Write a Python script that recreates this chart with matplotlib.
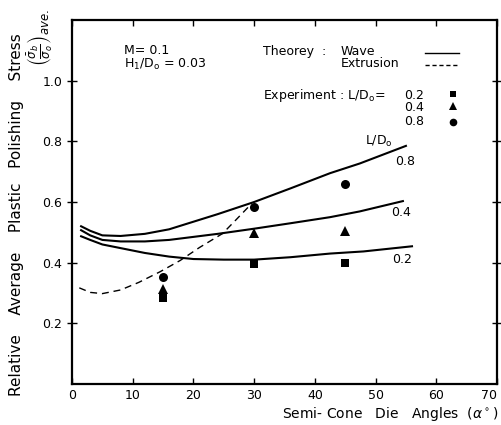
import matplotlib
matplotlib.use("Agg")
import matplotlib.pyplot as plt

# Theory: wave model curves for L/D0 = 0.8, 0.4, 0.2
wave_08_x = [1.5, 3, 5, 8, 12, 16, 20, 24, 30, 36, 42.5, 47.4, 55]
wave_08_y = [0.52, 0.505, 0.49, 0.488, 0.495, 0.51, 0.535, 0.56, 0.60, 0.645, 0.695, 0.727, 0.785]
wave_04_x = [1.5, 3, 5, 8, 12, 16, 20, 24, 30, 36, 42.5, 47.4, 54.5]
wave_04_y = [0.507, 0.49, 0.475, 0.47, 0.47, 0.475, 0.485, 0.495, 0.512, 0.53, 0.55, 0.569, 0.603]
wave_02_x = [1.5, 3, 5, 8, 12, 16, 20, 25, 30, 36, 42.5, 48, 56]
wave_02_y = [0.487, 0.475, 0.46, 0.448, 0.432, 0.42, 0.412, 0.41, 0.41, 0.418, 0.43, 0.437, 0.454]

# Theory: extrusion model
extr_x = [1.2, 3, 5, 8, 11, 14.5, 17.8, 21, 24.8, 27, 29.6]
extr_y = [0.317, 0.302, 0.298, 0.31, 0.335, 0.37, 0.407, 0.45, 0.496, 0.541, 0.595]

# Experiment
exp_angles = [15, 30, 45]
exp_02 = [0.284, 0.397, 0.40]
exp_04 = [0.314, 0.498, 0.503]
exp_08 = [0.352, 0.584, 0.66]

x_ticks = [0, 10, 20, 30, 40, 50, 60, 70]
y_ticks = [0.2, 0.4, 0.6, 0.8, 1.0]
y_ticklabels = ["0.2", "0.4", "0.6", "0.8", "1.0"]

plt.rcParams['font.family'] = ['DejaVu Sans']
fig = plt.figure(figsize=(5.01, 4.25), dpi=100)
W, H = 501, 425
ax = fig.add_axes([72 / W, 1 - 384 / H, (497 - 72) / W, (384 - 20) / H])

lw = 1.5
ax.plot(wave_08_x, wave_08_y, color='black', lw=lw)
ax.plot(wave_04_x, wave_04_y, color='black', lw=lw)
ax.plot(wave_02_x, wave_02_y, color='black', lw=lw)
ax.plot(extr_x, extr_y, color='black', lw=1.0, dashes=(5, 3.5))

ax.plot(exp_angles, exp_02, 's', color='black', ms=5.5, mew=0)
ax.plot(exp_angles, exp_04, '^', color='black', ms=6.5, mew=0)
ax.plot(exp_angles, exp_08, 'o', color='black', ms=6.5, mew=0)

ax.set_xlim(0, 70)
ax.set_ylim(0, 1.2)
ax.set_xticks(x_ticks)
ax.set_yticks(y_ticks)
ax.set_yticklabels(y_ticklabels)
ax.tick_params(axis='both', direction='inout', length=7, width=1.0,
               labelsize=9, top=True, right=True, labeltop=False, labelright=False)
ax.tick_params(axis='x', direction='in', length=4)
for s in ax.spines.values():
    s.set_linewidth(1.6)
# keep the last x tick label inside the canvas
xlabels = ax.get_xticklabels()
xlabels[-1].set_horizontalalignment('right')

fs = 9
# Parameter annotations
ax.text(8.6, 1.1, "M= 0.1", fontsize=fs, va='center')
ax.text(8.6, 1.055, r"H$_\mathregular{1}$/D$_\mathregular{o}$ = 0.03", fontsize=fs, va='center')

# Key
ax.text(31.5, 1.095, "Theorey  :", fontsize=fs, va='center')
ax.text(44.3, 1.095, "Wave", fontsize=fs, va='center')
ax.text(44.3, 1.055, "Extrusion", fontsize=fs, va='center')
ax.plot([58.2, 63.8], [1.09, 1.09], color='black', lw=1.0)
ax.plot([58.2, 63.8], [1.05, 1.05], color='black', lw=1.0, dashes=(3, 2))

ax.text(31.5, 0.95, r"Experiment : L/D$_\mathregular{o}$=", fontsize=fs, va='center')
ax.text(54.7, 0.95, "0.2", fontsize=fs, va='center')
ax.text(54.7, 0.91, "0.4", fontsize=fs, va='center')
ax.text(54.7, 0.865, "0.8", fontsize=fs, va='center')
ax.plot([62.8], [0.955], 's', color='black', ms=5, mew=0)
ax.plot([62.8], [0.915], '^', color='black', ms=5.5, mew=0)
ax.plot([62.8], [0.865], 'o', color='black', ms=5.5, mew=0)

# Curve labels
ax.text(48.2, 0.8, r"L/D$_\mathregular{o}$", fontsize=fs, va='center')
ax.text(53.3, 0.735, "0.8", fontsize=fs, va='center')
ax.text(52.6, 0.565, "0.4", fontsize=fs, va='center')
ax.text(52.8, 0.41, "0.2", fontsize=fs, va='center')

# Axis titles
fig.text(390 / W, 1 - 414 / H, r"Semi- Cone   Die   Angles  ($\alpha^\circ$)",
         fontsize=10, ha='center', va='center')
fig.text(17 / W, 1 - 215 / H, "Relative    Average    Plastic   Polishing    Stress",
         fontsize=11, rotation=90, ha='center', va='center')
fig.text(40 / W, 1 - 38 / H, r"$\left(\frac{\bar{\sigma}_b}{\sigma_o}\right)_{ave.}$",
         fontsize=12, rotation=90, ha='center', va='center')

fig.savefig("out.png", dpi=100)
